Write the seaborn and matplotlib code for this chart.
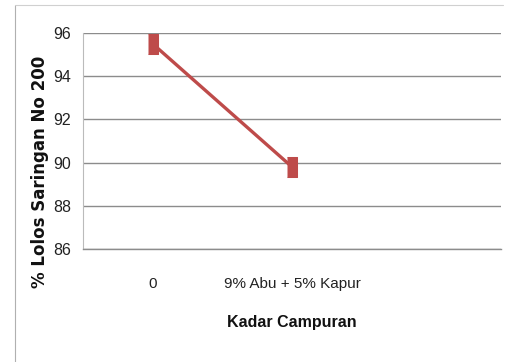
import matplotlib
matplotlib.use("Agg")
import matplotlib.pyplot as plt
import seaborn as sns
import pandas as pd
from matplotlib.lines import Line2D

# Data
categories = ["0", "9% Abu + 5% Kapur", ""]
lolos = [95.5, 89.8]
y_ticks = [86, 88, 90, 92, 94, 96]

sns.set_style("white")
sans = ["Liberation Sans", "DejaVu Sans"]

df = pd.DataFrame({"kadar": categories[:len(lolos)], "lolos": lolos})

fig = plt.figure(figsize=(5.07, 3.62), dpi=100)
ax = fig.add_axes([83 / 507, 1 - 249 / 362, (501 - 83) / 507, (249 - 33) / 362])

red = "#be4b4a"
sns.lineplot(data=df, x="kadar", y="lolos", ax=ax, color=red, linewidth=2.4,
             marker=[(-0.5, -1), (0.5, -1), (0.5, 1), (-0.5, 1)],
             markersize=14.5, markeredgecolor=red, markerfacecolor=red,
             sort=False, zorder=5, clip_on=False)

ax.set_xlim(-0.5, len(categories) - 0.5)
ax.set_ylim(y_ticks[0], y_ticks[-1])
ax.set_yticks(y_ticks)
ax.set_yticklabels([str(t) for t in y_ticks], family=sans, fontsize=11.5, color="#222222")
ax.set_xticks(range(len(categories) - 1))
ax.set_xticklabels(categories[:-1], family=sans, fontsize=11, color="#222222")
ax.set_xticks([i - 0.5 for i in range(len(categories) + 1)], minor=True)

ax.tick_params(axis="x", which="major", length=0, pad=20)
ax.tick_params(axis="x", which="minor", length=5, width=0.8, color="#999999", direction="out")
ax.tick_params(axis="y", which="major", length=5, width=0.8, color="#888888", direction="out", pad=3.5)

ax.grid(axis="y", color="#8c8c8c", linewidth=1.0)
ax.grid(axis="x", visible=False)
for side in ["top", "right"]:
    ax.spines[side].set_visible(False)
ax.spines["left"].set_color("#bbbbbb")
ax.spines["bottom"].set_color("#8c8c8c")
ax.spines["left"].set_linewidth(0.8)
ax.spines["bottom"].set_linewidth(1.0)

ax.set_xlabel("")
ax.set_ylabel("")
fig.text(292 / 507, 1 - 323 / 362, "Kadar Campuran", family=sans, fontsize=11.5,
         fontweight="bold", ha="center", va="center", color="#111111")
fig.text(40 / 507, 1 - 172 / 362, "% Lolos Saringan No 200", family=["DejaVu Sans"],
         fontsize=12, fontweight="bold", rotation=90, ha="center", va="center",
         color="#111111")

# Chart area border (left and top edges)
fig.add_artist(Line2D([15 / 507, 15 / 507], [0, 1 - 5 / 362], color="#b0b0b0",
                      linewidth=0.8, transform=fig.transFigure))
fig.add_artist(Line2D([15 / 507, 503 / 507], [1 - 5 / 362, 1 - 5 / 362], color="#d0d0d0",
                      linewidth=0.8, transform=fig.transFigure))

fig.savefig("out.png", dpi=100)
